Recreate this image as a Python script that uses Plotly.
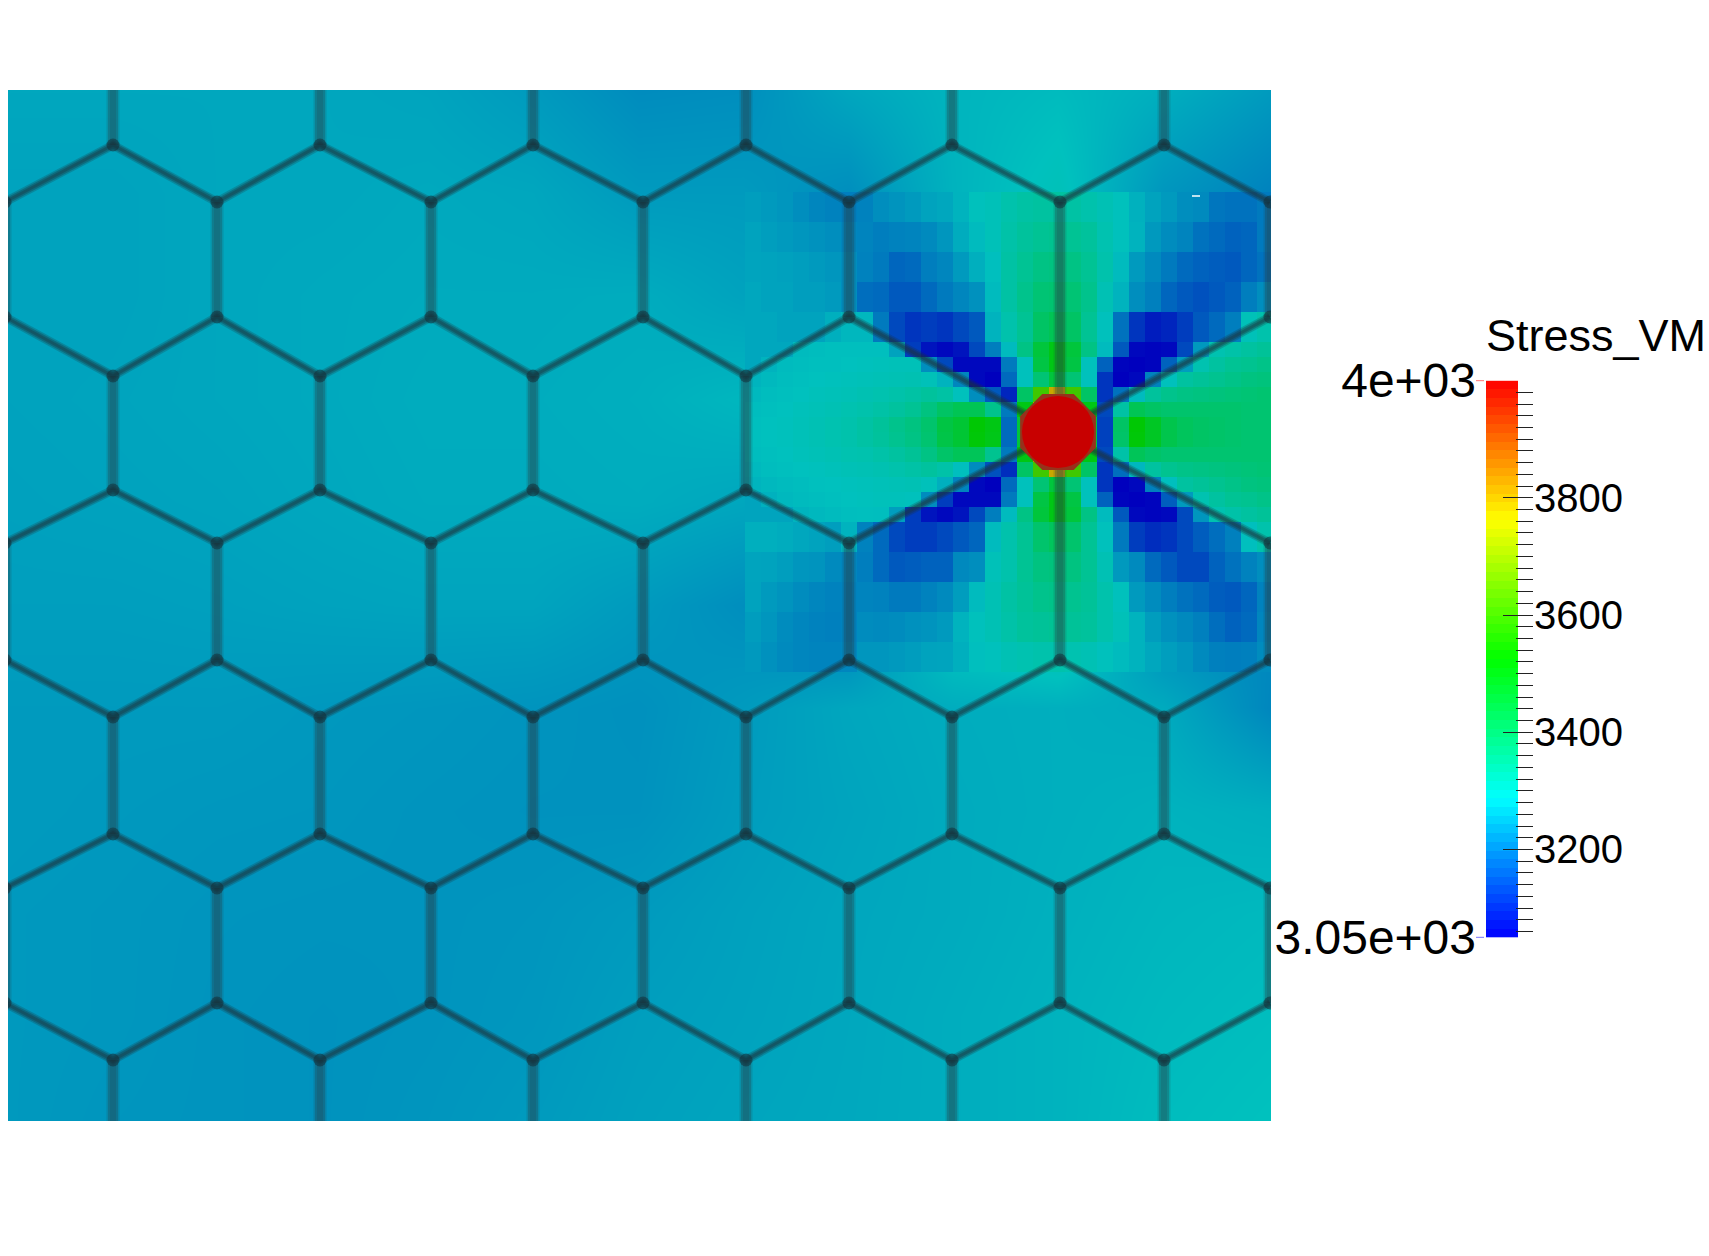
import plotly.graph_objects as go

W, H = 1709, 1256

# ---- Stress field: coarse background ----
bg_x = [8, 113, 218, 323, 428, 533, 638, 743, 848, 953, 1058, 1163, 1271]
bg_y = [90, 193, 296, 399, 502, 605, 708, 811, 914, 1017, 1121]
bg_z = [
    [3255, 3255, 3255, 3255, 3252, 3240, 3222, 3225, 3255, 3272, 3280, 3265, 3240],
    [3250, 3250, 3255, 3255, 3258, 3255, 3240, 3240, 3225, 3270, 3295, 3235, 3210],
    [3250, 3250, 3255, 3258, 3260, 3260, 3262, 3250, 3250, 3300, 3400, 3200, 3300],
    [3250, 3252, 3255, 3258, 3262, 3262, 3265, 3275, 3295, 3350, 3400, 3380, 3385],
    [3248, 3250, 3252, 3256, 3260, 3260, 3262, 3255, 3215, 3230, 3400, 3230, 3300],
    [3245, 3245, 3247, 3250, 3252, 3252, 3240, 3225, 3200, 3310, 3340, 3210, 3220],
    [3240, 3240, 3240, 3237, 3235, 3232, 3228, 3240, 3255, 3262, 3265, 3260, 3215],
    [3240, 3238, 3236, 3235, 3232, 3230, 3230, 3243, 3252, 3260, 3265, 3270, 3265],
    [3238, 3236, 3233, 3232, 3232, 3234, 3240, 3248, 3255, 3260, 3267, 3274, 3278],
    [3238, 3236, 3232, 3230, 3232, 3236, 3245, 3250, 3256, 3263, 3270, 3278, 3283],
    [3238, 3234, 3232, 3230, 3234, 3240, 3248, 3253, 3257, 3263, 3270, 3282, 3288],
]

# ---- Stress field: finer blocks round the hole ----
patch_x_edges = [745, 761, 777, 793, 809, 825, 841, 857, 873, 889, 905, 921, 937, 953, 969, 985, 1001,
                 1017, 1033, 1049, 1065, 1081, 1097, 1113, 1129, 1145, 1161, 1177, 1193, 1209, 1225,
                 1241, 1257, 1273]
patch_y_edges = [192, 222, 252, 282, 312, 342, 357, 372, 387, 402, 417, 432, 447, 462, 477, 492, 507,
                 522, 552, 582, 612, 642, 672]
patch_z = [
    [3245, 3240, 3235, 3225, 3215, 3210, 3205, 3210, 3225, 3232, 3240, 3250, 3255, 3270, 3290, 3295, 3310, 3320, 3325, 3325, 3320, 3310, 3300, 3290, 3268, 3250, 3240, 3225, 3220, 3195, 3190, 3190, 3200],
    [3250, 3245, 3240, 3235, 3230, 3225, 3215, 3212, 3205, 3210, 3212, 3220, 3235, 3262, 3280, 3295, 3315, 3330, 3340, 3345, 3340, 3330, 3305, 3290, 3270, 3238, 3222, 3212, 3190, 3180, 3170, 3175, 3200],
    [3252, 3250, 3248, 3245, 3240, 3235, 3225, 3210, 3200, 3175, 3180, 3205, 3215, 3240, 3265, 3285, 3320, 3340, 3360, 3365, 3360, 3340, 3310, 3280, 3240, 3220, 3200, 3180, 3170, 3165, 3160, 3175, 3190],
    [3255, 3250, 3250, 3245, 3245, 3240, 3225, 3185, 3180, 3160, 3160, 3180, 3200, 3215, 3228, 3280, 3320, 3350, 3380, 3385, 3380, 3350, 3300, 3270, 3225, 3208, 3175, 3160, 3150, 3160, 3170, 3205, 3225],
    [3255, 3255, 3250, 3250, 3250, 3265, 3275, 3275, 3200, 3140, 3115, 3125, 3115, 3140, 3160, 3270, 3310, 3340, 3400, 3420, 3400, 3340, 3290, 3190, 3115, 3085, 3095, 3125, 3160, 3180, 3205, 3295, 3310],
    [3255, 3255, 3255, 3280, 3282, 3285, 3285, 3285, 3285, 3250, 3125, 3075, 3060, 3075, 3140, 3205, 3280, 3360, 3450, 3500, 3450, 3360, 3280, 3160, 3060, 3055, 3060, 3140, 3238, 3305, 3315, 3325, 3335],
    [3255, 3270, 3280, 3282, 3285, 3285, 3288, 3290, 3292, 3295, 3295, 3225, 3140, 3060, 3060, 3060, 3200, 3290, 3440, 3500, 3440, 3290, 3170, 3055, 3050, 3055, 3170, 3243, 3305, 3325, 3340, 3345, 3355],
    [3272, 3278, 3282, 3285, 3288, 3290, 3292, 3295, 3298, 3300, 3302, 3295, 3270, 3215, 3060, 3050, 3180, 3290, 3380, 3450, 3380, 3290, 3115, 3050, 3060, 3210, 3290, 3325, 3335, 3345, 3355, 3365, 3370],
    [3278, 3282, 3285, 3288, 3292, 3295, 3298, 3302, 3306, 3312, 3320, 3330, 3320, 3290, 3225, 3160, 3095, 3400, 3600, 3800, 3600, 3400, 3115, 3190, 3280, 3330, 3350, 3360, 3365, 3370, 3375, 3380, 3385],
    [3282, 3285, 3288, 3292, 3296, 3300, 3305, 3310, 3318, 3328, 3340, 3365, 3400, 3420, 3420, 3350, 3200, 3500, 3800, 3900, 3800, 3500, 3140, 3320, 3420, 3400, 3390, 3390, 3390, 3390, 3390, 3385, 3385],
    [3285, 3288, 3290, 3295, 3300, 3305, 3310, 3320, 3332, 3350, 3365, 3390, 3440, 3460, 3520, 3500, 3180, 3450, 3800, 3900, 3800, 3450, 3130, 3400, 3520, 3480, 3430, 3410, 3400, 3395, 3390, 3385, 3385],
    [3285, 3288, 3290, 3295, 3300, 3305, 3310, 3320, 3330, 3345, 3360, 3385, 3435, 3460, 3515, 3495, 3180, 3450, 3800, 3900, 3800, 3450, 3130, 3395, 3515, 3480, 3430, 3410, 3400, 3395, 3390, 3385, 3385],
    [3282, 3285, 3288, 3292, 3296, 3300, 3305, 3308, 3315, 3325, 3338, 3360, 3395, 3415, 3415, 3345, 3200, 3500, 3800, 3900, 3800, 3500, 3140, 3315, 3415, 3395, 3385, 3385, 3385, 3385, 3385, 3385, 3385],
    [3278, 3282, 3285, 3288, 3290, 3294, 3298, 3300, 3304, 3310, 3318, 3328, 3315, 3285, 3222, 3150, 3105, 3400, 3600, 3800, 3600, 3400, 3115, 3185, 3275, 3325, 3345, 3355, 3360, 3365, 3370, 3375, 3380],
    [3272, 3276, 3280, 3283, 3286, 3288, 3290, 3292, 3295, 3298, 3300, 3292, 3265, 3212, 3060, 3050, 3180, 3290, 3380, 3450, 3380, 3290, 3115, 3050, 3060, 3208, 3285, 3325, 3335, 3345, 3355, 3365, 3370],
    [3252, 3268, 3276, 3280, 3283, 3285, 3288, 3290, 3292, 3292, 3290, 3222, 3125, 3060, 3060, 3060, 3200, 3290, 3440, 3500, 3440, 3290, 3170, 3055, 3050, 3055, 3165, 3240, 3305, 3325, 3340, 3345, 3355],
    [3252, 3252, 3252, 3272, 3276, 3280, 3284, 3285, 3284, 3245, 3125, 3075, 3060, 3075, 3140, 3205, 3280, 3360, 3450, 3500, 3450, 3360, 3280, 3160, 3060, 3055, 3060, 3140, 3235, 3305, 3315, 3325, 3335],
    [3265, 3265, 3262, 3255, 3250, 3245, 3270, 3210, 3180, 3140, 3125, 3125, 3140, 3160, 3175, 3280, 3310, 3340, 3390, 3410, 3390, 3340, 3290, 3200, 3125, 3105, 3115, 3140, 3165, 3185, 3208, 3285, 3310],
    [3252, 3250, 3245, 3235, 3232, 3220, 3215, 3205, 3180, 3160, 3165, 3170, 3170, 3218, 3225, 3295, 3310, 3340, 3365, 3370, 3365, 3340, 3300, 3238, 3220, 3180, 3160, 3140, 3140, 3170, 3190, 3210, 3225],
    [3250, 3240, 3232, 3222, 3215, 3210, 3210, 3212, 3210, 3200, 3200, 3210, 3220, 3243, 3280, 3300, 3320, 3335, 3350, 3355, 3345, 3335, 3310, 3290, 3240, 3222, 3205, 3190, 3180, 3165, 3160, 3175, 3210],
    [3243, 3235, 3222, 3215, 3210, 3208, 3210, 3222, 3220, 3222, 3228, 3232, 3240, 3270, 3290, 3300, 3315, 3330, 3335, 3340, 3335, 3330, 3310, 3295, 3270, 3243, 3228, 3218, 3208, 3185, 3170, 3180, 3215],
    [3238, 3228, 3220, 3215, 3212, 3212, 3215, 3235, 3235, 3238, 3243, 3250, 3252, 3265, 3285, 3290, 3300, 3305, 3310, 3310, 3305, 3300, 3290, 3280, 3270, 3255, 3245, 3235, 3220, 3208, 3205, 3208, 3222],
]

# ---- Honeycomb walls (mesh coordinates, same units as the field) ----
odd_x = [113, 320, 533, 746, 952, 1164]
even_x = [5, 217, 431, 643, 849, 1060, 1270]
wall_y = [145, 202, 317, 376, 490, 543, 660, 717, 834, 888, 1003, 1060]
plot_top, plot_bottom = 90, 1121
hole_x, hole_y = 1058, 432
hole_stress = [4000]

def zig(nodes):
    xs, ys = [], []
    for x, y in nodes:
        xs.append(x)
        ys.append(y)
    xs.append(None)
    ys.append(None)
    return xs, ys

Y = wall_y
chains = [
    [(5, Y[1]), (113, Y[0]), (217, Y[1]), (320, Y[0]), (431, Y[1]), (533, Y[0]), (643, Y[1]), (746, Y[0]),
     (849, Y[1]), (952, Y[0]), (1060, Y[1]), (1164, Y[0]), (1270, Y[1])],
    [(5, Y[2]), (113, Y[3]), (217, Y[2]), (320, Y[3]), (431, Y[2]), (533, Y[3]), (643, Y[2]), (746, Y[3]),
     (849, Y[2]), (hole_x, hole_y), (1270, Y[2])],
    [(5, Y[5]), (113, Y[4]), (217, Y[5]), (320, Y[4]), (431, Y[5]), (533, Y[4]), (643, Y[5]), (746, Y[4]),
     (849, Y[5]), (hole_x, hole_y), (1270, Y[5])],
    [(5, Y[6]), (113, Y[7]), (217, Y[6]), (320, Y[7]), (431, Y[6]), (533, Y[7]), (643, Y[6]), (746, Y[7]),
     (849, Y[6]), (952, Y[7]), (1060, Y[6]), (1164, Y[7]), (1270, Y[6])],
    [(5, Y[9]), (113, Y[8]), (217, Y[9]), (320, Y[8]), (431, Y[9]), (533, Y[8]), (643, Y[9]), (746, Y[8]),
     (849, Y[9]), (952, Y[8]), (1060, Y[9]), (1164, Y[8]), (1270, Y[9])],
    [(5, Y[10]), (113, Y[11]), (217, Y[10]), (320, Y[11]), (431, Y[10]), (533, Y[11]), (643, Y[10]), (746, Y[11]),
     (849, Y[10]), (952, Y[11]), (1060, Y[10]), (1164, Y[11]), (1270, Y[10])],
]
diag_x, diag_y = [], []
for c in chains:
    a, b = zig(c)
    diag_x += a
    diag_y += b

vert_x, vert_y = [], []
def add_v(x, y0, y1):
    vert_x.extend([x, x, None])
    vert_y.extend([y0, y1, None])
for x in odd_x:
    add_v(x, plot_top, Y[0])
    add_v(x, Y[7], Y[8])
    add_v(x, Y[11], plot_bottom)
for x in odd_x[:4]:
    add_v(x, Y[3], Y[4])
for x in even_x:
    # the wall column through the hole runs right up to the hole
    add_v(x, Y[1], hole_y if x == 1060 else Y[2])
    add_v(x, hole_y if x == 1060 else Y[5], Y[6])
    add_v(x, Y[9], Y[10])

node_x = [x for c in chains for x, _ in c if x != hole_x]
node_y = [y for c in chains for x, y in c if x != hole_x]

# ---- Colour scale ----
stress_min, stress_max = 3050, 4000
title_text = "Stress_VM"
major_ticks = [3200, 3400, 3600, 3800]
major_labels = ["3200", "3400", "3600", "3800"]
end_ticks = [3050, 4000]
end_labels = ["3.05e+03", "4e+03"]
bar_levels = [3050 + 950 * i / 64 for i in range(65)]

bright = [[0, "rgb(0,0,255)"], [0.25, "rgb(0,255,255)"], [0.5, "rgb(0,255,0)"],
          [0.75, "rgb(255,255,0)"], [1, "rgb(255,0,0)"]]
shaded = [[0, "rgb(0,0,190)"], [0.25, "rgb(0,193,190)"], [0.5, "rgb(0,200,0)"],
          [0.75, "rgb(200,200,0)"], [1, "rgb(200,0,0)"]]

fig = go.Figure()
common = dict(zmin=stress_min, zmax=stress_max, colorscale=shaded, showscale=False, hoverinfo="skip")
fig.add_trace(go.Heatmap(x=bg_x, y=bg_y, z=bg_z, zsmooth="best", **common))
fig.add_trace(go.Heatmap(x=patch_x_edges, y=patch_y_edges, z=patch_z, **common))

for wd, col in [(13, "rgba(40,60,70,0.18)"), (10, "rgba(40,60,70,0.26)"), (6, "rgba(40,60,70,0.18)")]:
    fig.add_trace(go.Scatter(x=vert_x, y=vert_y, mode="lines", line=dict(color=col, width=wd),
                             hoverinfo="skip", showlegend=False))
for wd, col in [(9, "rgba(30,50,60,0.24)"), (6, "rgba(30,50,60,0.34)"), (3, "rgba(30,50,60,0.34)")]:
    fig.add_trace(go.Scatter(x=diag_x, y=diag_y, mode="lines", line=dict(color=col, width=wd),
                             hoverinfo="skip", showlegend=False))
fig.add_trace(go.Scatter(x=node_x, y=node_y, mode="markers",
                         marker=dict(size=13, color="rgba(20,45,55,0.55)", line=dict(width=0)),
                         hoverinfo="skip", showlegend=False))

# hole
fig.add_trace(go.Scatter(x=[hole_x], y=[hole_y], mode="markers",
                         marker=dict(size=82, symbol="octagon", color="rgb(150,50,28)", line=dict(width=0)),
                         hoverinfo="skip", showlegend=False))
fig.add_trace(go.Scatter(x=[hole_x], y=[hole_y], mode="markers",
                         marker=dict(size=72, color=hole_stress, cmin=stress_min, cmax=stress_max,
                                     colorscale=shaded, line=dict(width=0)),
                         hoverinfo="skip", showlegend=False))
# small white mark
fig.add_trace(go.Scatter(x=[1192, 1200], y=[196, 196], mode="lines", line=dict(color="white", width=1.5),
                         hoverinfo="skip", showlegend=False))

# colour bar as its own heatmap (edges given, one column)
fig.add_trace(go.Heatmap(x=[10, 42], y=bar_levels, z=[[0.5 * (a + b)] for a, b in zip(bar_levels, bar_levels[1:])],
                         zmin=stress_min, zmax=stress_max, colorscale=bright, showscale=False,
                         hoverinfo="skip", xaxis="x2", yaxis="y2"))
fig.add_trace(go.Scatter(x=[0, 8], y=[4000, 4000], mode="lines", line=dict(color="red", width=1),
                         xaxis="x2", yaxis="y3", cliponaxis=False, hoverinfo="skip", showlegend=False))
fig.add_trace(go.Scatter(x=[0, 8], y=[3050, 3050], mode="lines", line=dict(color="blue", width=1),
                         xaxis="x2", yaxis="y3", cliponaxis=False, hoverinfo="skip", showlegend=False))

FONT = "Liberation Sans"
fig.update_layout(
    width=W, height=H, margin=dict(l=0, r=0, t=0, b=0, autoexpand=False),
    paper_bgcolor="white", plot_bgcolor="rgba(0,0,0,0)",
    showlegend=False, font=dict(family=FONT, color="black"),
    xaxis=dict(domain=[8 / W, 1271 / W], range=[8, 1271], visible=False),
    yaxis=dict(domain=[1 - 1121 / H, 1 - 90 / H], range=[1121, 90], visible=False),
    xaxis2=dict(domain=[1476 / W, 1518 / W], range=[0, 42], visible=False, anchor="y2"),
    yaxis2=dict(domain=[1 - 937.4 / H, 1 - 380.6 / H], range=[3050, 4000], anchor="free",
                position=1533 / W, side="right", showgrid=False, zeroline=False, showline=False,
                tickmode="array", tickvals=major_ticks, ticktext=major_labels,
                ticks="inside", ticklen=30, tickwidth=1, tickcolor="#222",
                tickfont=dict(size=40, family=FONT),
                minor=dict(ticks="inside", ticklen=17, tickwidth=1, tickcolor="#222",
                           tick0=3000, dtick=20, showgrid=False)),
    yaxis3=dict(domain=[1 - 937.4 / H, 1 - 380.6 / H], range=[3050, 4000], anchor="free", overlaying="y2",
                position=1476 / W, side="left", showgrid=False, zeroline=False, showline=False,
                tickmode="array", tickvals=end_ticks, ticktext=end_labels, ticks="",
                tickfont=dict(size=48, family=FONT)),
    annotations=[dict(text=title_text, xref="paper", yref="paper", x=1484 / W, y=1 - 335 / H,
                      xanchor="left", yanchor="middle", showarrow=False,
                      font=dict(size=45, family=FONT, color="black"))],
)

fig.write_html("out.html", config={"displayModeBar": False},
               post_script="document.body.style.margin='0';document.body.style.overflow='hidden';")
